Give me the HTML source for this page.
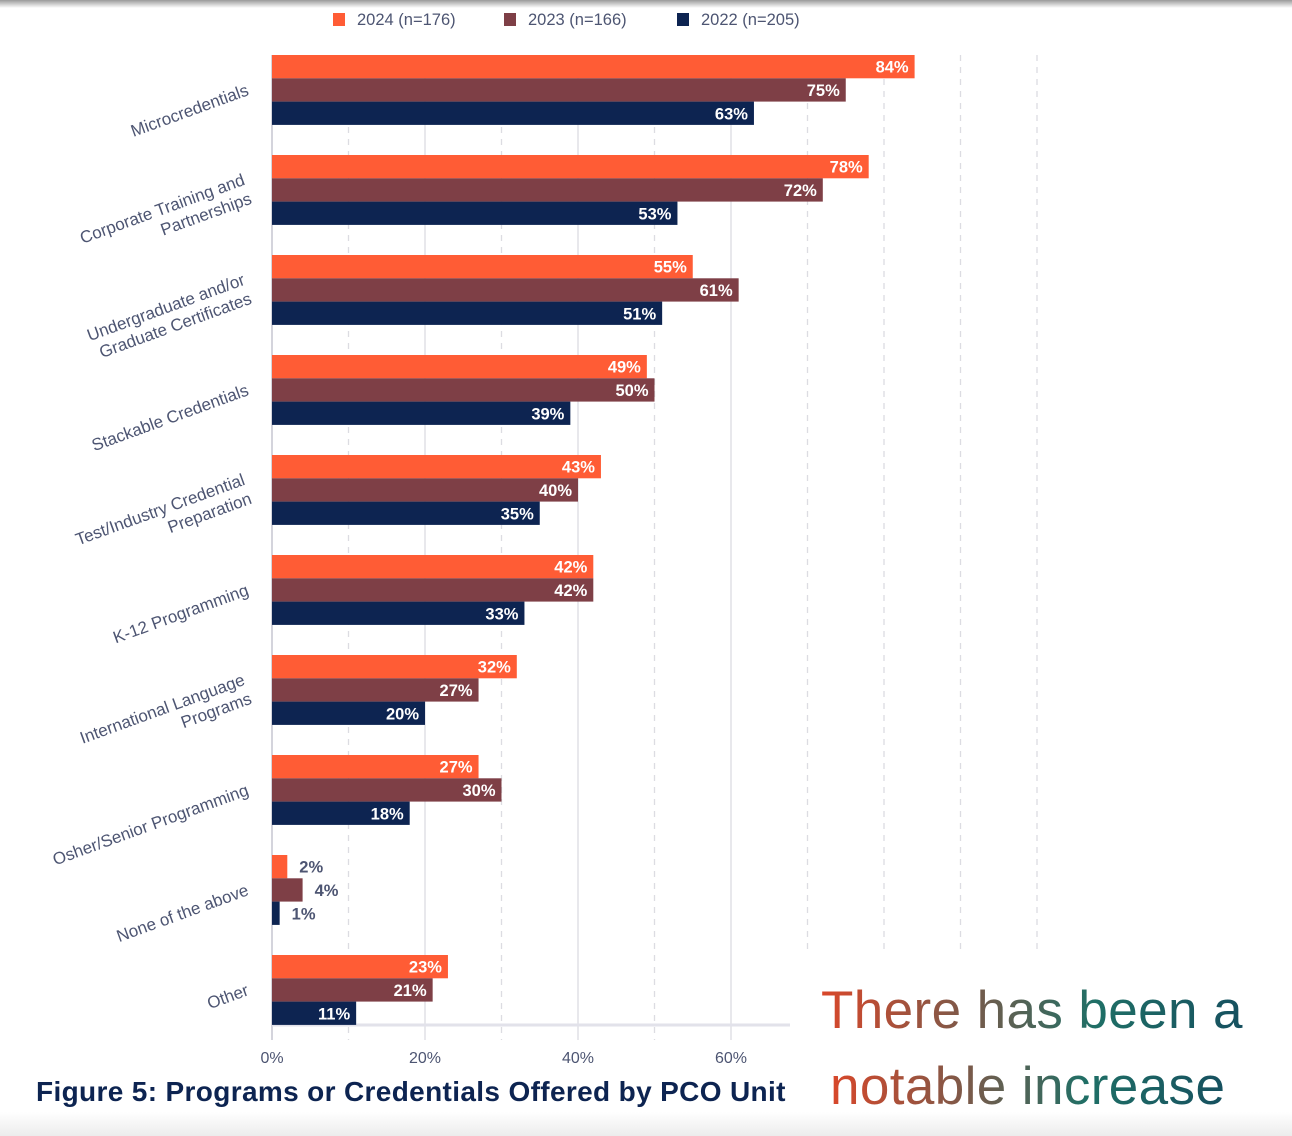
<!DOCTYPE html>
<html><head><meta charset="utf-8"><style>
body{margin:0;width:1292px;height:1136px;background:#fff;overflow:hidden;position:relative;font-family:"Liberation Sans",sans-serif}
#topshade{position:absolute;left:0;top:0;width:1292px;height:8px;background:linear-gradient(#9a9a9a,#fff)}
#botshade{position:absolute;left:0;top:1112px;width:1292px;height:24px;background:linear-gradient(#fff,#ececec)}
#title{position:absolute;left:36px;top:1076px;font-size:28px;font-weight:bold;color:#0d2451;letter-spacing:0.35px}
.big{position:absolute;font-size:53px;font-weight:300;background:linear-gradient(90deg,#d9472a,#7a5a4a 35%,#1f6f66 65%,#16505f);-webkit-background-clip:text;background-clip:text;color:transparent;white-space:nowrap;letter-spacing:0.4px}
</style></head><body>
<div id="topshade"></div>
<svg id="chart" width="1292" height="1136" style="position:absolute;left:0;top:0"></svg>
<div id="title">Figure 5: Programs or Credentials Offered by PCO Unit</div>
<div class="big" style="left:821px;top:980px">There has been a</div>
<div class="big" style="left:830px;top:1056px">notable increase</div>
<div id="botshade"></div>
<script>
const categories=[["Microcredentials"],["Corporate Training and","Partnerships"],["Undergraduate and/or","Graduate Certificates"],["Stackable Credentials"],["Test/Industry Credential","Preparation"],["K-12 Programming"],["International Language","Programs"],["Osher/Senior Programming"],["None of the above"],["Other"]];
const seriesNames=["2024 (n=176)","2023 (n=166)","2022 (n=205)"];
const values2024=[84,78,55,49,43,42,32,27,2,23];
const values2023=[75,72,61,50,40,42,27,30,4,21];
const values2022=[63,53,51,39,35,33,20,18,1,11];
const tickValues=[0,20,40,60];
const tickLabels=["0%","20%","40%","60%"];
const colors=["#ff5c35","#7e3f46","#0d2451"];
const NS="http://www.w3.org/2000/svg";
const svg=document.getElementById("chart");
const x0=272,pxPer=7.65;
const xs=v=>x0+v*pxPer;
const groupY=i=>55+i*100;
const barH=23.3;
function mk(t,a){const e=document.createElementNS(NS,t);for(const k in a)e.setAttribute(k,a[k]);svg.appendChild(e);return e;}
for(let g=10;g<=100;g+=10){
  const l=mk("line",{x1:xs(g),x2:xs(g),y1:55,y2:g<=60?1040:952,stroke:"#dcdce2","stroke-width":1.3,"stroke-dasharray":g%20===0&&g<=60?"":"6 6"});
  
  
}
const ax=mk("line",{x1:272,x2:272,y1:55,y2:1040,stroke:"#d4d4dc","stroke-width":2});

const bx=mk("line",{x1:272,x2:790,y1:1025,y2:1025,stroke:"#e2e2ea","stroke-width":3});

tickValues.forEach((v,i)=>{
  const t=mk("text",{x:xs(v),y:1063,"text-anchor":"middle","font-size":16,fill:"#4d5572"});
  t.textContent=tickLabels[i];
  
  
});
const all=[values2024,values2023,values2022];
categories.forEach((cat,i)=>{
  all.forEach((vals,s)=>{
    const y=groupY(i)+s*barH;
    const v=vals[i];
    const r=mk("rect",{x:x0,y:y,width:xs(v)-x0,height:barH,fill:colors[s]});
    
    
    const inside=v>=8;
    const t=mk("text",{x:inside?xs(v)-6:xs(v)+12,y:y+barH/2+6,"text-anchor":inside?"end":"start","font-size":16.5,"font-weight":"bold",fill:inside?"#fff":"#4d5572"});
    t.textContent=v+"%";
    
    
  });
  const cy=groupY(i)+35;
  const g=document.createElementNS(NS,"g");
  g.setAttribute("transform",`translate(248,${cy}) rotate(-20)`);
  
  
  svg.appendChild(g);
  cat.forEach((line,k)=>{
    const t=document.createElementNS(NS,"text");
    const dy=cat.length===1?5:(k===0?-6:14);
    t.setAttribute("x",0);t.setAttribute("y",dy);
    t.setAttribute("text-anchor","end");t.setAttribute("font-size",17);t.setAttribute("fill","#4d5572");
    t.textContent=line;g.appendChild(t);
  });
});
const legX=[333,504,677];
seriesNames.forEach((n,s)=>{
  const r=mk("rect",{x:legX[s],y:13,width:12,height:13,fill:colors[s]});
  
  
  const t=mk("text",{x:legX[s]+24,y:25,"font-size":16.5,fill:"#4d5572"});
  t.textContent=n;
  
  
});
</script>
</body></html>
